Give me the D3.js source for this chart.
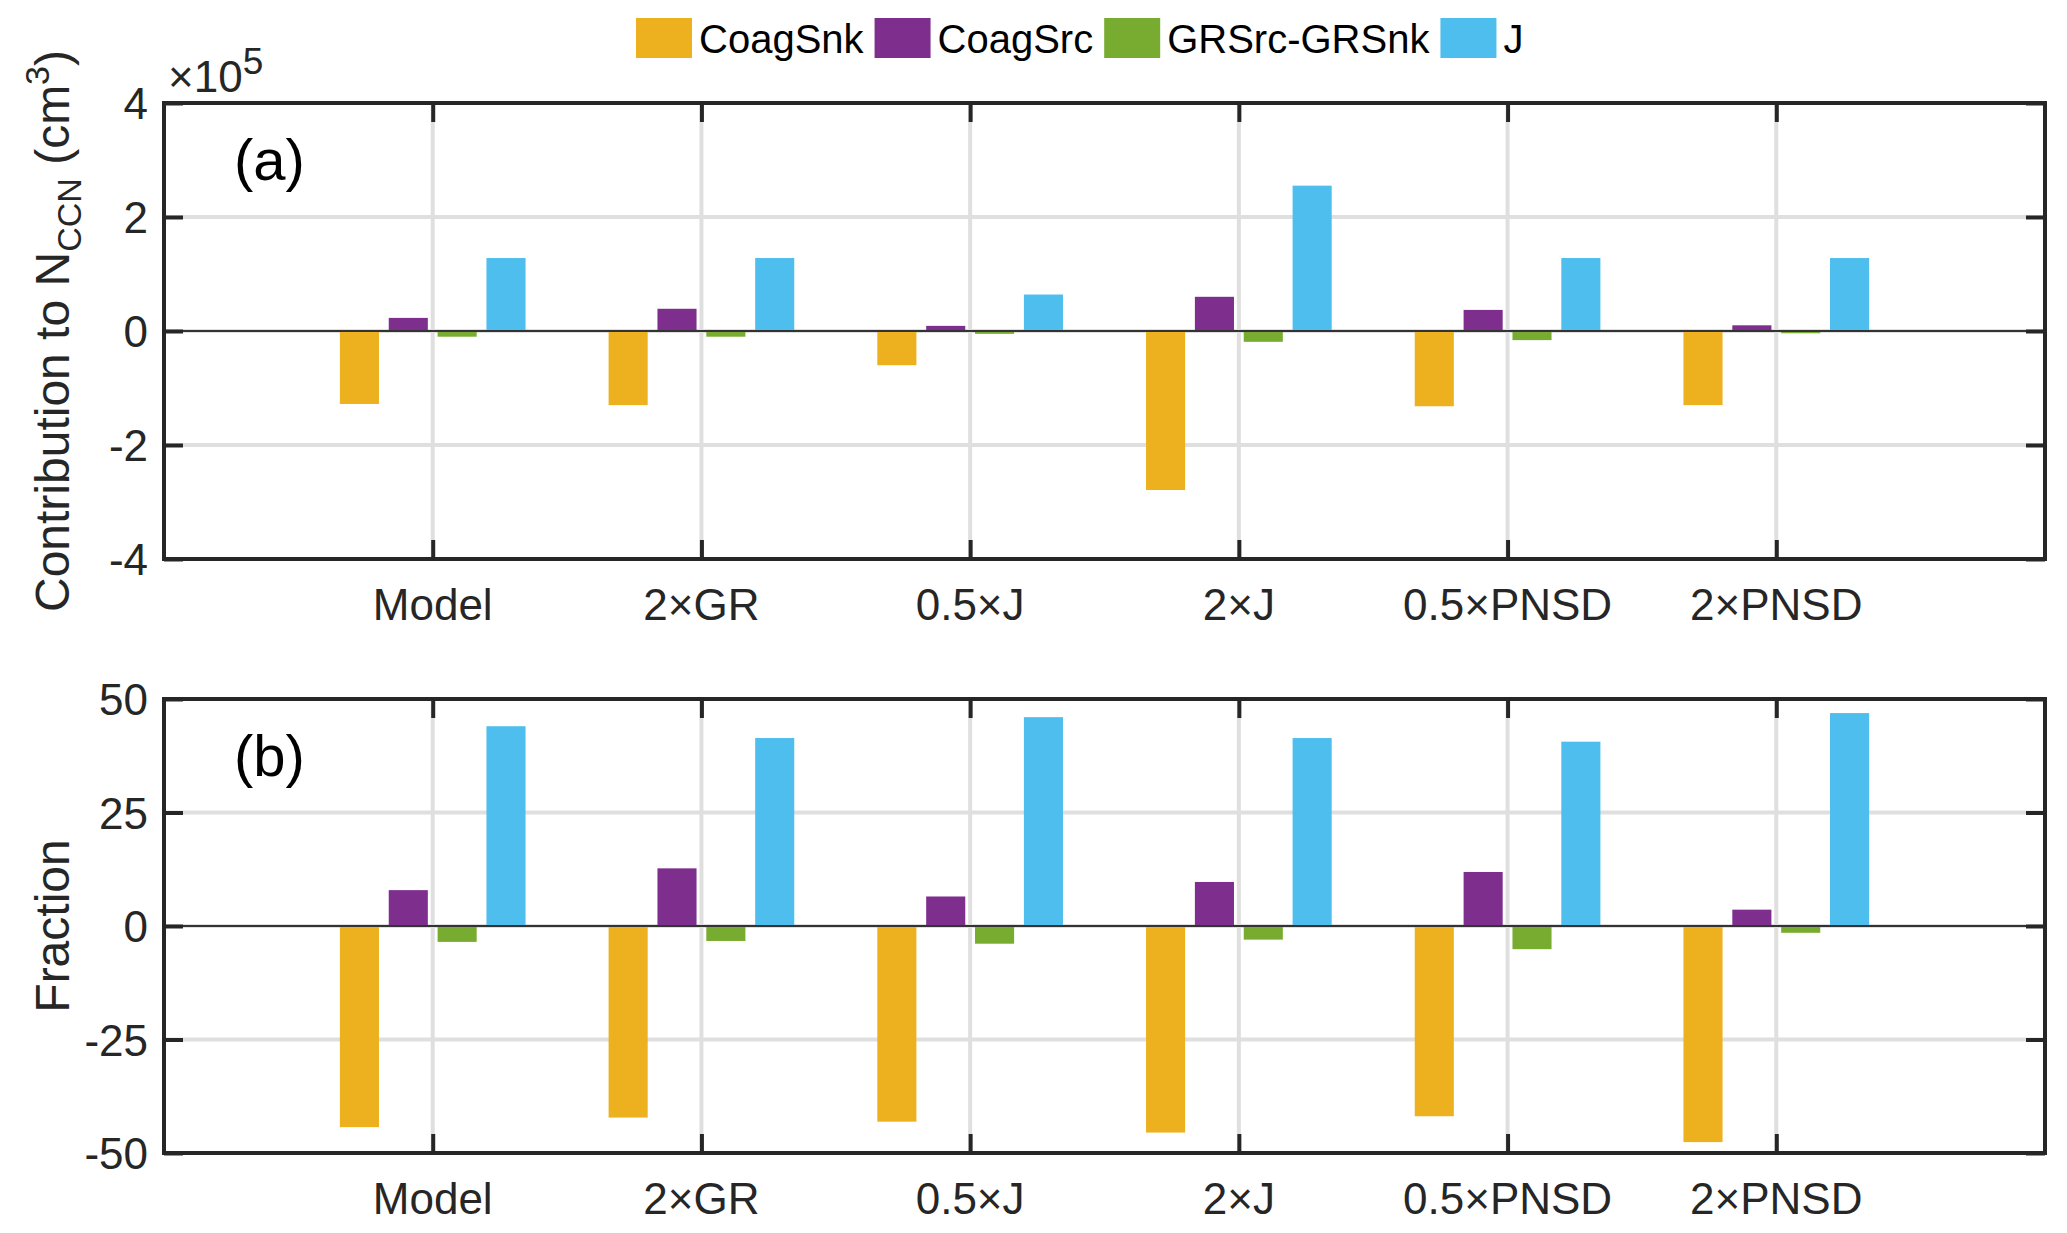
<!DOCTYPE html>
<html>
<head>
<meta charset="utf-8">
<script src="https://cdn.jsdelivr.net/npm/d3@7"></script>
<style>
  body { margin: 0; background: #fff; }
  svg { display: block; font-family: 'Liberation Sans', Arial, Helvetica, sans-serif; }
</style>
</head>
<body>
<svg id="chart" width="2067" height="1233"></svg>
<script>
const categories = ['Model', '2×GR', '0.5×J', '2×J', '0.5×PNSD', '2×PNSD'];
const seriesNames = ['CoagSnk', 'CoagSrc', 'GRSrc-GRSnk', 'J'];
const seriesColors = ['#EDB120', '#7E2F8E', '#77AC30', '#4DBEEE'];

// panel (a): contribution to N_CCN, in units of 1e5 cm^-3
const contribCoagSnk = [-1.28, -1.30, -0.60, -2.79, -1.32, -1.30];
const contribCoagSrc = [0.23, 0.39, 0.09, 0.60, 0.37, 0.10];
const contribGR = [-0.10, -0.10, -0.05, -0.19, -0.16, -0.04];
const contribJ = [1.28, 1.28, 0.64, 2.55, 1.28, 1.28];

// panel (b): fraction (%)
const fracCoagSnk = [-44.3, -42.2, -43.1, -45.5, -41.9, -47.6];
const fracCoagSrc = [7.9, 12.7, 6.5, 9.7, 11.9, 3.6];
const fracGR = [-3.5, -3.3, -3.9, -3.0, -5.1, -1.5];
const fracJ = [44.0, 41.4, 46.0, 41.4, 40.6, 46.9];

const yTicksA = [-4, -2, 0, 2, 4];
const yTicksB = [-50, -25, 0, 25, 50];

const svg = d3.select('#chart');
const axisColor = '#262626';
const gridColor = '#dfdfdf';
const left = 164, right = 2045;

const x = d3.scaleLinear().domain([0, categories.length + 1]).range([left, right]);
const unit = x(1) - x(0);
const groupW = Math.min(0.8, seriesNames.length / (seriesNames.length + 1.5)) * unit;
const xSub = d3.scaleBand()
  .domain(seriesNames)
  .range([-groupW / 2, groupW / 2])
  .paddingInner(0.2)
  .paddingOuter(0.1);

function drawPanel(opts) {
  const {top, bottom, domain, ticks, values, tag, ylabel} = opts;
  const g = svg.append('g');
  const y = d3.scaleLinear().domain(domain).range([bottom, top]);
  const tickLen = 19;

  // grid
  g.append('g')
    .selectAll('line')
    .data(ticks)
    .enter()
    .append('line')
    .attr('x1', left).attr('x2', right)
    .attr('y1', d => y(d)).attr('y2', d => y(d))
    .style('stroke', gridColor).style('stroke-width', 4);
  g.append('g')
    .selectAll('line')
    .data(categories)
    .enter()
    .append('line')
    .attr('x1', (d, i) => x(i + 1)).attr('x2', (d, i) => x(i + 1))
    .attr('y1', top).attr('y2', bottom)
    .style('stroke', gridColor).style('stroke-width', 4);

  // bars
  const rows = categories.map((c, i) => ({cat: c, idx: i, vals: values.map(v => v[i])}));
  const gGroups = g.selectAll('.g_group')
    .data(rows)
    .enter()
    .append('g')
    .attr('class', 'g_group')
    .attr('transform', d => 'translate(' + x(d.idx + 1) + ',0)');
  gGroups.selectAll('rect')
    .data(d => d.vals.map((v, k) => ({name: seriesNames[k], k: k, v: v})))
    .enter()
    .append('rect')
    .attr('x', d => xSub(d.name))
    .attr('width', xSub.bandwidth())
    .attr('y', d => Math.min(y(0), y(d.v)))
    .attr('height', d => Math.abs(y(d.v) - y(0)))
    .style('fill', d => seriesColors[d.k]);

  // baseline
  g.append('line')
    .attr('x1', left).attr('x2', right)
    .attr('y1', y(0)).attr('y2', y(0))
    .style('stroke', '#333').style('stroke-width', 2);

  // ticks inside, all four sides
  const yAxisL = d3.axisRight(y).tickValues(ticks).tickSize(tickLen).tickFormat('');
  const yAxisR = d3.axisLeft(y).tickValues(ticks).tickSize(tickLen).tickFormat('');
  const xTickVals = categories.map((c, i) => i + 1);
  const xAxisB = d3.axisTop(x).tickValues(xTickVals).tickSize(tickLen).tickFormat('');
  const xAxisT = d3.axisBottom(x).tickValues(xTickVals).tickSize(tickLen).tickFormat('');
  [
    [yAxisL, 'translate(' + left + ',0)'],
    [yAxisR, 'translate(' + right + ',0)'],
    [xAxisB, 'translate(0,' + bottom + ')'],
    [xAxisT, 'translate(0,' + top + ')']
  ].forEach(([ax, tr]) => {
    const a = g.append('g').attr('transform', tr).call(ax);
    a.select('.domain').remove();
    a.selectAll('.tick line').style('stroke', axisColor).style('stroke-width', 4);
  });

  // frame
  g.append('rect')
    .attr('x', left).attr('y', top)
    .attr('width', right - left).attr('height', bottom - top)
    .style('fill', 'none').style('stroke', axisColor).style('stroke-width', 4);

  // tick labels
  g.selectAll('.ytl')
    .data(ticks)
    .enter()
    .append('text')
    .attr('class', 'ytl')
    .attr('x', left - 16)
    .attr('y', d => y(d) + 16)
    .attr('text-anchor', 'end')
    .style('font-size', '44px')
    .style('fill', axisColor)
    .text(d => d);
  g.selectAll('.xtl')
    .data(categories)
    .enter()
    .append('text')
    .attr('class', 'xtl')
    .attr('x', (d, i) => x(i + 1))
    .attr('y', bottom + 61)
    .attr('text-anchor', 'middle')
    .style('font-size', '44px')
    .style('fill', axisColor)
    .text(d => d);

  // panel tag
  g.append('text')
    .attr('x', 234)
    .attr('y', top + 77)
    .style('font-size', '58px')
    .style('fill', '#000')
    .text(tag);

  // y label
  const yl = g.append('text')
    .attr('transform', 'translate(69,' + (top + bottom) / 2 + ') rotate(-90)')
    .attr('text-anchor', 'middle')
    .style('font-size', '48px')
    .style('fill', axisColor);
  ylabel(yl);

  return y;
}

drawPanel({
  top: 103, bottom: 559, domain: [-4, 4], ticks: yTicksA,
  values: [contribCoagSnk, contribCoagSrc, contribGR, contribJ],
  tag: '(a)',
  ylabel: t => {
    t.append('tspan').text('Contribution to N');
    t.append('tspan').attr('dy', 12).style('font-size', '34px').text('CCN');
    t.append('tspan').attr('dy', -12).text(' (cm');
    t.append('tspan').attr('dy', -20).style('font-size', '34px').text('3');
    t.append('tspan').attr('dy', 20).text(')');
  }
});

drawPanel({
  top: 699, bottom: 1153, domain: [-50, 50], ticks: yTicksB,
  values: [fracCoagSnk, fracCoagSrc, fracGR, fracJ],
  tag: '(b)',
  ylabel: t => t.text('Fraction')
});

// exponent for panel (a)
const expo = svg.append('text')
  .attr('x', 168)
  .attr('y', 92)
  .style('font-size', '44px')
  .style('fill', axisColor);
expo.append('tspan').text('×10');
expo.append('tspan').attr('dy', -18).style('font-size', '37px').text('5');

// legend
const legend = svg.append('g').attr('transform', 'translate(636,18)');
let lx = 0;
seriesNames.forEach((name, i) => {
  legend.append('rect')
    .attr('x', lx).attr('y', 0)
    .attr('width', 56).attr('height', 40)
    .style('fill', seriesColors[i]);
  const t = legend.append('text')
    .attr('x', lx + 63)
    .attr('y', 35)
    .style('font-size', '40px')
    .style('fill', '#000')
    .text(name);
  lx += 63 + t.node().getComputedTextLength() + 11;
});
</script>
</body>
</html>
